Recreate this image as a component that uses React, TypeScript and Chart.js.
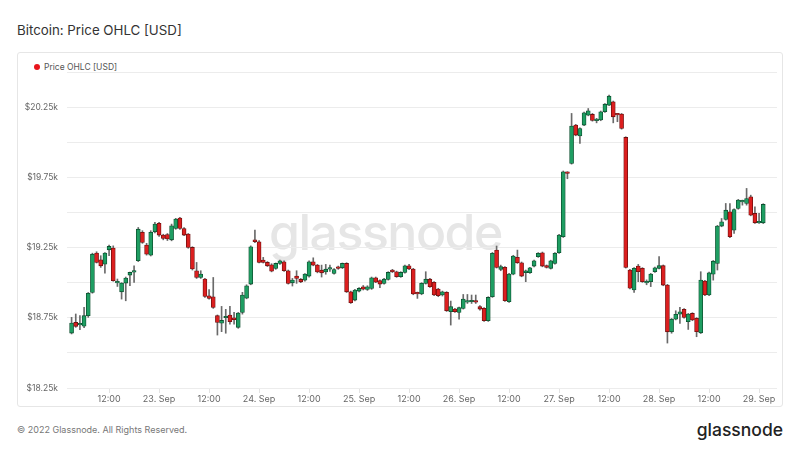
import React, { useEffect, useRef } from "react";
import { Chart, registerables } from "chart.js";

Chart.register(...registerables);

// Hourly candles, first one at 22 Sep 03:00 (x = hours since 22 Sep 00:00)
const START_HOUR = 3;

const OPEN = [
  18641, 18717, 18700, 18690, 18765, 18931, 19211, 19163, 19132, 19234,
  19246, 18998, 18935, 18997, 19054, 19075, 19156, 19358, 19268, 19196,
  19362, 19422, 19339, 19342, 19305, 19386, 19460, 19386, 19346, 19251,
  19085, 19037, 19026, 18907, 18900, 18765, 18712, 18750, 18769, 18750,
  18682, 18788, 18890, 18990, 19305, 19291, 19161, 19144, 19127, 19101,
  19137, 19149, 19085, 18999, 19047, 19023, 19018, 19047, 19149, 19125,
  19089, 19077, 19096, 19066, 19113, 19106, 19137, 18935, 18876, 18940,
  18971, 18952, 18959, 19035, 19014, 18995, 19023, 19089, 19078, 19042,
  19073, 19120, 19097, 18928, 18919, 18995, 19025, 19002, 18954, 18912,
  18931, 18793, 18812, 18788, 18817, 18862, 18864, 18866, 18829, 18817,
  18729, 18900, 19232, 19095, 19109, 18865, 19061, 19180, 19142, 19071,
  19071, 19118, 19185, 19213, 19121, 19102, 19137, 19213, 19327, 19785,
  19849, 20122, 20044, 20122, 20193, 20198, 20153, 20158, 20217, 20264,
  20288, 20200, 20200, 20034, 19090, 18948, 19118, 19102, 18998, 19007,
  19078, 19102, 19121, 18983, 18650, 18740, 18775, 18810, 18722, 18781,
  18746, 18643, 19011, 18912, 19061, 19137, 19403, 19450, 19504, 19374,
  19528, 19575, 19564, 19611, 19493, 19426, 19426,
];

const HIGH = [
  18753, 18777, 18765, 18824, 18930, 19210, 19220, 19192, 19215, 19268,
  19262, 19026, 19000, 19040, 19075, 19120, 19393, 19370, 19280, 19370,
  19429, 19430, 19345, 19350, 19417, 19458, 19465, 19393, 19350, 19256,
  19144, 19085, 19030, 18950, 19037, 18770, 18831, 18810, 18831, 18788,
  18788, 18931, 18985, 19262, 19374, 19300, 19180, 19150, 19135, 19140,
  19160, 19155, 19090, 19030, 19085, 19030, 19065, 19156, 19177, 19130,
  19125, 19130, 19125, 19100, 19118, 19140, 19142, 18940, 18952, 18965,
  18980, 18978, 19040, 19040, 19020, 19030, 19078, 19095, 19082, 19078,
  19125, 19130, 19102, 18933, 19000, 19078, 19030, 19008, 18960, 18940,
  18936, 18869, 18818, 18826, 18916, 18916, 18912, 18912, 18836, 18822,
  18900, 19215, 19261, 19125, 19114, 19066, 19195, 19232, 19147, 19090,
  19110, 19160, 19214, 19218, 19126, 19160, 19214, 19344, 19795, 19790,
  20205, 20127, 20103, 20215, 20240, 20205, 20170, 20222, 20276, 20335,
  20293, 20205, 20205, 20039, 19095, 19107, 19130, 19107, 19020, 19066,
  19111, 19185, 19126, 18988, 18745, 18800, 18825, 18815, 18781, 18786,
  18751, 19078, 19016, 19075, 19158, 19408, 19457, 19564, 19564, 19526,
  19593, 19588, 19671, 19623, 19540, 19493, 19562,
];

const LOW = [
  18635, 18682, 18665, 18680, 18753, 18925, 19140, 19109, 19068, 19192,
  19010, 18973, 18883, 18871, 18978, 19002, 19150, 19280, 19196, 19190,
  19355, 19330, 19305, 19300, 19298, 19380, 19380, 19334, 19245, 19090,
  19030, 19030, 18895, 18883, 18817, 18627, 18651, 18640, 18705, 18705,
  18675, 18776, 18885, 18985, 19285, 19140, 19140, 19115, 19077, 19095,
  19130, 19080, 18990, 18976, 18995, 19000, 19010, 19040, 19120, 19070,
  19040, 19060, 19080, 19060, 19095, 19100, 18930, 18852, 18870, 18935,
  18948, 18945, 18952, 19000, 18965, 18990, 19018, 19072, 19038, 19038,
  19068, 19092, 18914, 18888, 18914, 18990, 18966, 18907, 18900, 18905,
  18795, 18698, 18788, 18740, 18812, 18852, 18852, 18852, 18805, 18724,
  18724, 18895, 19104, 19085, 18867, 18860, 19056, 19137, 19042, 19007,
  19066, 19113, 19180, 19113, 19104, 19097, 19132, 19208, 19322, 19740,
  19844, 20046, 19991, 20117, 20188, 20150, 20138, 20153, 20212, 20260,
  20138, 20146, 20093, 19104, 18955, 18930, 19007, 19002, 18985, 18972,
  19073, 19097, 18978, 18570, 18640, 18735, 18710, 18748, 18667, 18729,
  18615, 18638, 18907, 18907, 19018, 19090, 19398, 19445, 19320, 19350,
  19523, 19552, 19552, 19476, 19421, 19421, 19421,
];

const CLOSE = [
  18712, 18689, 18708, 18765, 18924, 19203, 19144, 19120, 19211, 19258,
  19014, 19002, 18997, 19033, 19073, 19080, 19381, 19287, 19203, 19358,
  19417, 19339, 19315, 19312, 19405, 19453, 19386, 19339, 19251, 19097,
  19037, 19061, 18902, 18888, 18824, 18717, 18731, 18755, 18722, 18736,
  18784, 18912, 18978, 19256, 19292, 19144, 19144, 19120, 19082, 19137,
  19156, 19085, 18995, 19018, 19030, 19006, 19061, 19149, 19125, 19077,
  19070, 19096, 19106, 19094, 19101, 19137, 18935, 18857, 18947, 18959,
  18954, 18971, 19035, 19004, 18990, 19025, 19073, 19078, 19042, 19073,
  19120, 19097, 18919, 18920, 18995, 19025, 18971, 18912, 18907, 18935,
  18800, 18829, 18793, 18822, 18883, 18866, 18868, 18862, 18812, 18729,
  18895, 19209, 19109, 19114, 18872, 19061, 19190, 19142, 19047, 19085,
  19106, 19156, 19209, 19118, 19109, 19156, 19209, 19339, 19790, 19778,
  20115, 20051, 20098, 20210, 20224, 20155, 20165, 20217, 20271, 20328,
  20181, 20195, 20098, 19109, 18960, 19102, 19078, 19007, 19002, 19061,
  19106, 19121, 18983, 18650, 18740, 18775, 18793, 18753, 18776, 18734,
  18651, 19018, 18912, 19070, 19153, 19403, 19433, 19516, 19327, 19521,
  19588, 19578, 19599, 19481, 19426, 19430, 19557,
];

const X_TICK_HOURS = [12, 24, 36, 48, 60, 72, 84, 96, 108, 120, 132, 144, 156, 168];
const X_TICK_LABELS = [
  "12:00", "23. Sep", "12:00", "24. Sep", "12:00", "25. Sep", "12:00",
  "26. Sep", "12:00", "27. Sep", "12:00", "28. Sep", "12:00", "29. Sep",
];
const Y_TICKS = [18250, 18500, 18750, 19000, 19250, 19500, 19750, 20000, 20250, 20500];
const Y_TICK_LABELS = ["$18.25k", "", "$18.75k", "", "$19.25k", "", "$19.75k", "", "$20.25k", ""];

const GREEN = "#1e9e62";
const GREEN_EDGE = "#0c4f2f";
const RED = "#dc1f1f";
const RED_EDGE = "#6e0f0f";
const FONT = "Inter, 'Noto Sans', sans-serif";

export default function App() {
  const canvasRef = useRef<HTMLCanvasElement | null>(null);

  useEffect(() => {
    if (!canvasRef.current) return;
    const bodies = OPEN.map((o, i) => ({ x: START_HOUR + i, y: [o, CLOSE[i]] }));
    const wicks = LOW.map((l, i) => ({ x: START_HOUR + i, y: [l, HIGH[i]] }));
    const isUp = (i: number) => CLOSE[i] >= OPEN[i];

    const chart = new Chart(canvasRef.current, {
      type: "bar",
      data: {
        datasets: [
          {
            label: "Price OHLC [USD]",
            data: bodies as any,
            grouped: false,
            barThickness: 4,
            minBarLength: 1.5,
            borderWidth: 0.8,
            borderSkipped: false,
            backgroundColor: (ctx: any) =>
              ctx.dataIndex === undefined ? GREEN : isUp(ctx.dataIndex) ? GREEN : RED,
            borderColor: (ctx: any) =>
              ctx.dataIndex === undefined ? GREEN_EDGE : isUp(ctx.dataIndex) ? GREEN_EDGE : RED_EDGE,
          } as any,
          {
            label: "wick",
            data: wicks as any,
            grouped: false,
            barThickness: 1,
            borderWidth: 0,
            backgroundColor: "#6a6a6a",
          } as any,
        ],
      },
      options: {
        animation: false,
        responsive: false,
        maintainAspectRatio: false,
        layout: { padding: { top: 20, right: 6, left: 0, bottom: 0 } },
        plugins: { legend: { display: false }, tooltip: { enabled: false } },
        scales: {
          x: {
            type: "linear",
            min: 1.9,
            max: 172.3,
            offset: false,
            grid: { offset: false, drawOnChartArea: false, tickLength: 5, color: "#e3e3e3" },
            border: { display: false },
            afterBuildTicks: (s: any) => {
              s.ticks = X_TICK_HOURS.map((v) => ({ value: v }));
            },
            afterFit: (s: any) => {
              s.height = 19;
            },
            ticks: {
              autoSkip: false,
              maxRotation: 0,
              padding: 1,
              color: "#666",
              font: { family: FONT, size: 9 },
              callback: (v: any) => {
                const i = X_TICK_HOURS.indexOf(Number(v));
                return i >= 0 ? X_TICK_LABELS[i] : null;
              },
            },
          } as any,
          y: {
            min: 18250,
            max: 20500,
            grid: { color: "#ececec", drawTicks: false },
            border: { display: false },
            afterBuildTicks: (s: any) => {
              s.ticks = Y_TICKS.map((v) => ({ value: v }));
            },
            afterFit: (s: any) => {
              s.width = 50;
            },
            ticks: {
              padding: 9,
              color: "#666",
              font: { family: FONT, size: 8.5 },
              callback: (v: any) => {
                const i = Y_TICKS.indexOf(Number(v));
                return i >= 0 ? Y_TICK_LABELS[i] : "";
              },
            },
          } as any,
        },
      },
    });
    return () => chart.destroy();
  }, []);

  return (
    <div
      style={{
        position: "absolute",
        left: 0,
        top: 0,
        width: 800,
        height: 450,
        background: "#fff",
        fontFamily: FONT,
        overflow: "hidden",
      }}
    >
      <div
        style={{
          position: "absolute",
          left: 17,
          top: 21,
          fontSize: 13.3,
          color: "#333",
          lineHeight: "18px",
          whiteSpace: "nowrap",
        }}
      >
        Bitcoin: Price OHLC [USD]
      </div>
      <div
        style={{
          position: "absolute",
          left: 17,
          top: 52,
          width: 764,
          height: 353,
          border: "1px solid #e6e6e6",
          borderRadius: 3,
        }}
      />
      <div
        style={{
          position: "absolute",
          left: 269,
          top: 201,
          fontSize: 50,
          fontWeight: 500,
          color: "#e6e6e6",
          letterSpacing: -1.5,
          lineHeight: "62px",
          whiteSpace: "nowrap",
        }}
      >
        glassnode
      </div>
      <div
        style={{
          position: "absolute",
          left: 34,
          top: 61,
          fontSize: 8.5,
          color: "#555",
          lineHeight: "12px",
          display: "flex",
          alignItems: "center",
          whiteSpace: "nowrap",
        }}
      >
        <span
          style={{
            display: "inline-block",
            width: 6,
            height: 6,
            borderRadius: 3,
            background: "#e8141b",
            marginRight: 4,
          }}
        />
        Price OHLC [USD]
      </div>
      <canvas
        ref={canvasRef}
        width={766}
        height={355}
        style={{ position: "absolute", left: 17, top: 52, width: 766, height: 355 }}
      />
      <div
        style={{
          position: "absolute",
          left: 17,
          top: 424,
          fontSize: 9,
          color: "#777",
          lineHeight: "12px",
          whiteSpace: "nowrap",
        }}
      >
        © 2022 Glassnode. All Rights Reserved.
      </div>
      <div
        style={{
          position: "absolute",
          right: 17,
          top: 419,
          fontSize: 17.5,
          fontWeight: 500,
          color: "#222",
          lineHeight: "22px",
          whiteSpace: "nowrap",
        }}
      >
        glassnode
      </div>
    </div>
  );
}
